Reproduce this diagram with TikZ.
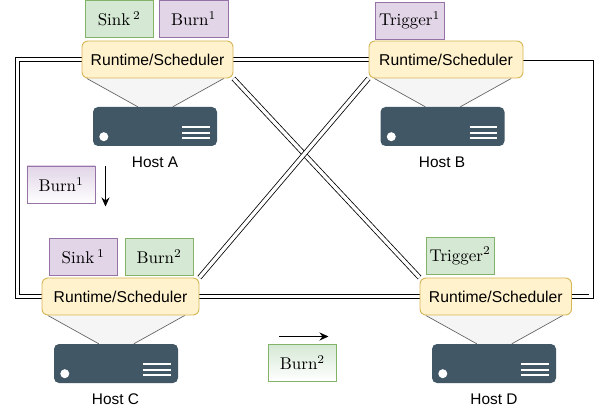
\documentclass[tikz,border=0pt]{standalone}
\usepackage{fontspec}
\setsansfont{Liberation Sans}
\usetikzlibrary{arrows.meta,backgrounds}
\definecolor{rsfill}{HTML}{FFF2CC}
\definecolor{rsline}{HTML}{D6B656}
\definecolor{pfill}{HTML}{E1D5E7}
\definecolor{pline}{HTML}{9673A6}
\definecolor{gfill}{HTML}{D5E8D4}
\definecolor{gline}{HTML}{82B366}
\definecolor{srv}{HTML}{415765}
\tikzset{
  rsbox/.style={draw=rsline,fill=rsfill,line width=0.9pt,rounded corners=6pt,inner sep=0pt,minimum height=37pt,
    font=\sffamily\fontsize{15.7}{18}\selectfont},
  task/.style={draw,line width=0.9pt,inner sep=0pt,minimum width=68.5pt,minimum height=37pt},
  purpletask/.style={task,draw=pline,fill=pfill},
  greentask/.style={task,draw=gline,fill=gfill},
  purplegrad/.style={task,draw=pline,top color=pfill,bottom color=white},
  greengrad/.style={task,draw=gline,top color=gfill,bottom color=white},
  server/.style={fill=srv,rounded corners=5pt,inner sep=0pt,minimum width=124pt,minimum height=39pt},
  hostlabel/.style={inner sep=0pt,font=\sffamily\fontsize{15.4}{18}\selectfont},
  link/.style={draw=black,line width=0.8pt,double=white,double distance=3.4pt},
  move/.style={draw=black,line width=0.9pt,-{Stealth[length=9pt,width=8pt]}},
}
\newcommand{\tasklabel}[1]{\scalebox{1.7}{#1}}
\newcommand{\hostunit}[2]{%
  \fill[white] ([xshift=11pt,yshift=9.5pt]#1.south west) circle[radius=4.5pt];
  \draw[white,line width=2pt] ([xshift=-35pt,yshift=19pt]#1.south east) -- ([xshift=-7.5pt,yshift=19pt]#1.south east);
  \draw[white,line width=2pt] ([xshift=-35pt,yshift=13.5pt]#1.south east) -- ([xshift=-7.5pt,yshift=13.5pt]#1.south east);
  \draw[white,line width=2pt] ([xshift=-35pt,yshift=8pt]#1.south east) -- ([xshift=-7.5pt,yshift=8pt]#1.south east);
  \begin{scope}[on background layer]
    \fill[fill=black!4] ([xshift=-6pt]#1.west |- #2.south) -- ([xshift=131pt]#1.west |- #2.south)
      -- ([xshift=80pt]#1.north west) -- ([xshift=45pt]#1.north west) -- cycle;
    \draw[draw=black!60,line width=0.7pt] ([xshift=-6pt]#1.west |- #2.south) -- ([xshift=45pt]#1.north west);
    \draw[draw=black!60,line width=0.7pt] ([xshift=131pt]#1.west |- #2.south) -- ([xshift=80pt]#1.north west);
  \end{scope}}
\begin{document}
\begin{tikzpicture}[x=1pt,y=-1pt]
\useasboundingbox (0,0) rectangle (600,414);
% runtime boxes
\node[rsbox,minimum width=151pt] (ra) at (157.5,59.5) {Runtime/Scheduler};
\node[rsbox,minimum width=154pt] (rb) at (446,59.5) {Runtime/Scheduler};
\node[rsbox,minimum width=157pt] (rc) at (120.5,296.5) {Runtime/Scheduler};
\node[rsbox,minimum width=151.5pt] (rd) at (495.75,296.5) {Runtime/Scheduler};
% servers
\node[server] (sa) at (155,126.5) {};
\node[server] (sb) at (442.5,126.5) {};
\node[server] (sc) at (116,363.5) {};
\node[server] (sd) at (494,363.5) {};
\hostunit{sa}{ra}
\hostunit{sb}{rb}
\hostunit{sc}{rc}
\hostunit{sd}{rd}
% host labels
\node[hostlabel] (la) at (155,162.5) {Host A};
\node[hostlabel] (lb) at (442,162.5) {Host B};
\node[hostlabel] (lc) at (115.5,399.5) {Host C};
\node[hostlabel] (ld) at (494,399.5) {Host D};
% tasks
\node[greentask] (t1) at (119.3,19) {\tasklabel{Sink\,$^2$}};
\node[purpletask] (t2) at (193.7,19) {\tasklabel{Burn$^1$}};
\node[purpletask] (t3) at (409.7,20.5) {\tasklabel{Trigger$^1$}};
\node[purpletask] (t4) at (83.2,257) {\tasklabel{Sink\,$^1$}};
\node[greentask] (t5) at (159.2,257) {\tasklabel{Burn$^2$}};
\node[greentask] (t6) at (460.2,256) {\tasklabel{Trigger$^2$}};
\node[purplegrad] (t7) at (61.2,184.5) {\tasklabel{Burn$^1$}};
\node[greengrad] (t8) at (302.5,362.5) {\tasklabel{Burn$^2$}};
% moving arrows
\coordinate (m1a) at (105.5,166);
\coordinate (m1b) at (105.5,206.5);
\coordinate (m2a) at (279,336.5);
\coordinate (m2b) at (328.5,336.5);
\draw[move] (m1a) -- (m1b);
\draw[move] (m2a) -- (m2b);
% network links
\begin{scope}[on background layer]
  \draw[link] (ra.east) -- (rb.west);
  \draw[link] (rc.east) -- (rd.west);
  \draw[link] (ra.west) -- (17.7,59.5) -- (17.7,296.5) -- (rc.west);
  \draw[link] ([yshift=-3.5pt]rb.east) -- (591,63) -- (591,296.5) -- (rd.east);
  \draw[link] (ra.south east) -- (rd.north west);
  \draw[link] (rb.south west) -- (rc.north east);
\end{scope}
\end{tikzpicture}
\end{document}
